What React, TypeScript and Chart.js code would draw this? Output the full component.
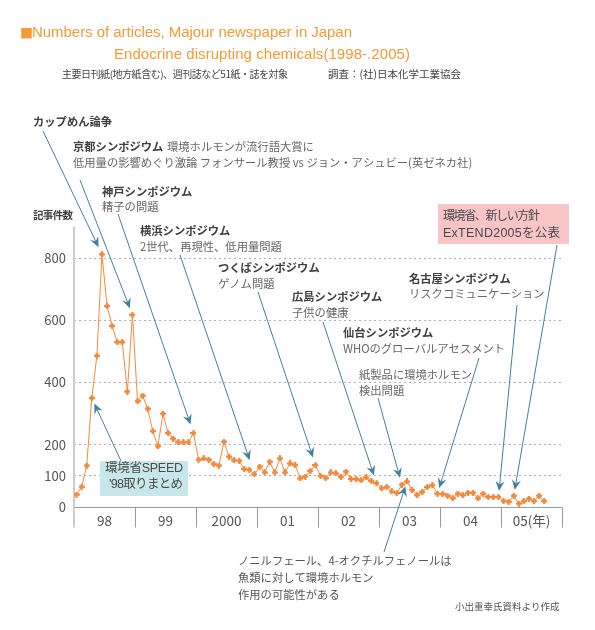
import React, { useEffect, useRef } from 'react';
import { Chart, registerables } from 'chart.js';

Chart.register(...registerables);

// ---------- data ----------
const yearLabels = ['98', '99', '2000', '01', '02', '03', '04', '05(年)'];
const yTicks = [0, 100, 200, 400, 600, 800];
const v1998 = [40, 65, 133, 350, 486, 812, 646, 582, 530, 530, 371, 618];
const v1999 = [340, 358, 316, 244, 195, 300, 238, 220, 208, 208, 208, 238];
const v2000 = [152, 156, 152, 138, 133, 210, 162, 150, 149, 122, 120, 105];
const v2001 = [130, 111, 146, 111, 156, 111, 140, 135, 92, 98, 116, 135];
const v2002 = [100, 93, 111, 108, 97, 114, 90, 90, 86, 95, 84, 77];
const v2003 = [60, 65, 50, 45, 72, 82, 55, 38, 49, 64, 70, 43];
const v2004 = [42, 36, 28, 43, 38, 46, 46, 28, 43, 32, 32, 32];
const v2005 = [19, 17, 36, 11, 19, 27, 19, 36, 19];

const FONT = '"Noto Sans CJK JP", "Noto Sans", sans-serif';
const LFONT = '"Liberation Sans", "Noto Sans CJK JP", sans-serif';
const ORANGE = '#f28a3c';
const TITLE_ORANGE = '#f39a34';
const ARROW = '#44819c';
const DARK = '#404040';
const GREY = '#666666';

type Ann = {
  lines: { text: string; bold?: boolean; x: number; y: number }[];
  from: [number, number];
  target: number;
  gap: number;
};

const annotations: Ann[] = [
  { lines: [{ text: 'カップめん論争', bold: true, x: 33, y: 122 }], from: [43, 131], target: 5, gap: 8 },
  {
    lines: [
      { text: '京都シンポジウム', bold: true, x: 73, y: 147 },
      { text: '環境ホルモンが流行語大賞に', x: 167, y: 147 },
      { text: '低用量の影響めぐり激論 フォンサール教授 vs ジョン・アシュビー(英ゼネカ社)', x: 73, y: 163 },
    ],
    from: [80, 180], target: 11, gap: 7,
  },
  {
    lines: [
      { text: '神戸シンポジウム', bold: true, x: 102, y: 192 },
      { text: '精子の問題', x: 102, y: 207 },
    ],
    from: [118, 214], target: 23, gap: 9,
  },
  {
    lines: [
      { text: '横浜シンポジウム', bold: true, x: 140, y: 231 },
      { text: '2世代、再現性、低用量問題', x: 140, y: 247 },
    ],
    from: [180, 255], target: 35, gap: 15,
  },
  {
    lines: [
      { text: 'つくばシンポジウム', bold: true, x: 218, y: 268 },
      { text: 'ゲノム問題', x: 218, y: 284 },
    ],
    from: [258, 292], target: 47, gap: 8,
  },
  {
    lines: [
      { text: '広島シンポジウム', bold: true, x: 292, y: 297 },
      { text: '子供の健康', x: 292, y: 313 },
    ],
    from: [323, 322], target: 59, gap: 8,
  },
  {
    lines: [
      { text: '仙台シンポジウム', bold: true, x: 343, y: 333 },
      { text: 'WHOのグローバルアセスメント', x: 343, y: 349 },
    ],
    from: [479, 358], target: 71, gap: 6,
  },
  {
    lines: [
      { text: '紙製品に環境ホルモン', x: 359, y: 375 },
      { text: '検出問題', x: 359, y: 391 },
    ],
    from: [378, 398], target: 64, gap: 7,
  },
  {
    lines: [
      { text: '名古屋シンポジウム', bold: true, x: 409, y: 279 },
      { text: 'リスクコミュニケーション', x: 409, y: 294 },
    ],
    from: [517, 305], target: 83, gap: 6,
  },
];

function makeMarker(color: string) {
  const c = document.createElement('canvas');
  c.width = 6;
  c.height = 6;
  const g = c.getContext('2d')!;
  g.fillStyle = color;
  g.fillRect(2, 0, 2, 6);
  g.fillRect(0, 2, 6, 2);
  g.beginPath();
  g.arc(3, 3, 2.2, 0, Math.PI * 2);
  g.fill();
  return c;
}

function drawText(ctx: CanvasRenderingContext2D, text: string, x: number, y: number, font: string, color: string, width?: number) {
  ctx.font = font;
  ctx.fillStyle = color;
  ctx.textAlign = 'left';
  ctx.textBaseline = 'middle';
  const anyCtx = ctx as any;
  if (width && 'letterSpacing' in anyCtx) {
    anyCtx.letterSpacing = '0px';
    const w = ctx.measureText(text).width;
    const n = Array.from(text).length;
    const sp = (width - w) / Math.max(1, n - 1);
    anyCtx.letterSpacing = sp.toFixed(2) + 'px';
    ctx.fillText(text, x, y);
    anyCtx.letterSpacing = '0px';
  } else {
    ctx.fillText(text, x, y);
  }
}

function drawArrow(ctx: CanvasRenderingContext2D, fx: number, fy: number, px: number, py: number, gap: number) {
  const dx = px - fx;
  const dy = py - fy;
  const len = Math.hypot(dx, dy);
  const ux = dx / len;
  const uy = dy / len;
  const tx = px - ux * gap;
  const ty = py - uy * gap;
  const L = 10;
  const W = 4.5;
  ctx.strokeStyle = ARROW;
  ctx.fillStyle = ARROW;
  ctx.lineWidth = 1;
  ctx.beginPath();
  ctx.moveTo(fx, fy);
  ctx.lineTo(tx - ux * L * 0.6, ty - uy * L * 0.6);
  ctx.stroke();
  ctx.beginPath();
  ctx.moveTo(tx, ty);
  ctx.lineTo(tx - ux * L - uy * W, ty - uy * L + ux * W);
  ctx.lineTo(tx - ux * L * 0.65, ty - uy * L * 0.65);
  ctx.lineTo(tx - ux * L + uy * W, ty - uy * L - ux * W);
  ctx.closePath();
  ctx.fill();
}

export default function App() {
  const ref = useRef<HTMLCanvasElement>(null);

  useEffect(() => {
    const values = [...v1998, ...v1999, ...v2000, ...v2001, ...v2002, ...v2003, ...v2004, ...v2005];
    const points = values.map((v, i) => ({ x: i + 0.5, y: v }));
    const marker = makeMarker(ORANGE);

    const decor = {
      id: 'decor',
      beforeDatasetsDraw(chart: any) {
        const ctx: CanvasRenderingContext2D = chart.ctx;
        const xs = chart.scales.x;
        const ys = chart.scales.y;
        const area = chart.chartArea;
        const y0 = Math.round(ys.getPixelForValue(0)) + 0.5;
        ctx.save();
        // x axis line
        ctx.strokeStyle = '#9a9a9a';
        ctx.lineWidth = 1;
        ctx.beginPath();
        ctx.moveTo(area.left, y0);
        ctx.lineTo(area.right, y0);
        ctx.stroke();
        // year dividers
        for (let k = 1; k <= yearLabels.length; k++) {
          const px = Math.round(xs.getPixelForValue(k * 12)) + 0.5;
          ctx.beginPath();
          ctx.moveTo(px, y0);
          ctx.lineTo(px, y0 + 20);
          ctx.stroke();
        }
        // y axis line
        ctx.strokeStyle = '#cccccc';
        ctx.lineWidth = 2;
        ctx.beginPath();
        ctx.moveTo(area.left, area.top);
        ctx.lineTo(area.left, y0 + 20);
        ctx.stroke();
        // year labels
        ctx.textAlign = 'center';
        ctx.textBaseline = 'middle';
        ctx.fillStyle = '#555555';
        ctx.font = `13.5px ${FONT}`;
        yearLabels.forEach((lab, k) => {
          ctx.fillText(lab, xs.getPixelForValue(k * 12 + 6), y0 + 13);
        });
        // SPEED box
        ctx.fillStyle = '#c8e7e9';
        ctx.fillRect(100, 461, 88, 35);
        // ExTEND box
        ctx.fillStyle = '#f7c5c6';
        ctx.fillRect(438, 204, 131, 40);
        ctx.restore();
      },
      afterDatasetsDraw(chart: any) {
        const ctx: CanvasRenderingContext2D = chart.ctx;
        const xs = chart.scales.x;
        const ys = chart.scales.y;
        const pt = (i: number) => [xs.getPixelForValue(i + 0.5), ys.getPixelForValue(values[i])];
        ctx.save();
        // titles
        drawText(ctx, '■', 20, 33, `13px ${FONT}`, TITLE_ORANGE);
        drawText(ctx, 'Numbers of articles, Majour newspaper in Japan', 32, 33, `15px ${LFONT}`, TITLE_ORANGE, 320);
        drawText(ctx, 'Endocrine disrupting chemicals(1998-.2005)', 114, 55, `15px ${LFONT}`, TITLE_ORANGE, 296);
        drawText(ctx, '主要日刊紙(地方紙含む)、週刊誌など51紙・誌を対象', 62, 74, `10px ${FONT}`, '#444444', 226);
        drawText(ctx, '調査：(社)日本化学工業協会', 328, 74, `10.5px ${FONT}`, '#444444');
        // y title
        drawText(ctx, '記事件数', 33, 215, `bold 10.5px ${FONT}`, DARK, 40);

        // annotations
        annotations.forEach((a) => {
          a.lines.forEach((l) => {
            drawText(ctx, l.text, l.x, l.y, `${l.bold ? 'bold ' : ''}11.3px ${FONT}`, l.bold ? DARK : GREY);
          });
          const [px, py] = pt(a.target);
          drawArrow(ctx, a.from[0], a.from[1], px, py, a.gap);
        });

        // ExTEND box text + arrow
        drawText(ctx, '環境省、新しい方針', 443, 217, `12px ${LFONT}`, '#4a4a4a', 97);
        drawText(ctx, 'ExTEND2005を公表', 443, 234, `12.5px ${LFONT}`, '#4a4a4a', 117);
        {
          const [px, py] = pt(86);
          drawArrow(ctx, 557, 245, px, py, 6);
        }
        // SPEED box text + arrow
        drawText(ctx, '環境省SPEED', 105, 469, `12.5px ${LFONT}`, '#4a4a4a', 78);
        drawText(ctx, "'98取りまとめ", 109, 485, `12.5px ${LFONT}`, '#4a4a4a', 74);
        {
          const [px, py] = pt(3);
          drawArrow(ctx, 121, 461, px, py, 6);
        }
        // bottom annotation
        drawText(ctx, 'ノニルフェール、4-オクチルフェノールは', 238, 561, `11.3px ${FONT}`, '#555555');
        drawText(ctx, '魚類に対して環境ホルモン', 238, 578, `11.3px ${FONT}`, '#555555');
        drawText(ctx, '作用の可能性がある', 238, 595, `11.3px ${FONT}`, '#555555');
        {
          const [px, py] = pt(65);
          drawArrow(ctx, 384, 552, px, py, 5);
        }
        drawText(ctx, '小出重幸氏資料より作成', 455, 606, `9.5px ${FONT}`, '#555555');
        ctx.restore();
      },
    };

    const chart = new Chart(ref.current!, {
      type: 'line',
      data: {
        datasets: [
          {
            data: points,
            borderColor: ORANGE,
            backgroundColor: ORANGE,
            borderWidth: 1,
            pointStyle: marker as any,
            pointRadius: 3,
            pointHoverRadius: 3,
            tension: 0,
            fill: false,
          },
        ],
      },
      options: {
        animation: false,
        responsive: false,
        devicePixelRatio: 1,
        events: [],
        layout: { padding: { top: 227, right: 33, bottom: 123, left: 0 } },
        plugins: { legend: { display: false }, tooltip: { enabled: false } },
        scales: {
          x: { type: 'linear', min: 0, max: 96, display: false },
          y: {
            type: 'linear',
            min: 0,
            max: 900,
            afterBuildTicks: (s: any) => {
              s.ticks = yTicks.map((v) => ({ value: v }));
            },
            afterFit: (s: any) => {
              s.width = 74;
            },
            border: { display: false, dash: [2, 3] },
            grid: {
              drawTicks: false,
              lineWidth: 1,
              color: (c: any) => (c.tick && c.tick.value === 0 ? 'rgba(0,0,0,0)' : '#b0b0b0'),
            },
            ticks: {
              color: '#555555',
              padding: 8,
              font: { size: 13, family: FONT },
              callback: (v: any) => String(v),
            },
          },
        },
      },
      plugins: [decor],
    });
    return () => chart.destroy();
  }, []);

  return (
    <div style={{ position: 'absolute', left: 0, top: 0, width: 595, height: 630, background: '#fff' }}>
      <canvas ref={ref} width={595} height={630} style={{ width: 595, height: 630, display: 'block' }} />
    </div>
  );
}
